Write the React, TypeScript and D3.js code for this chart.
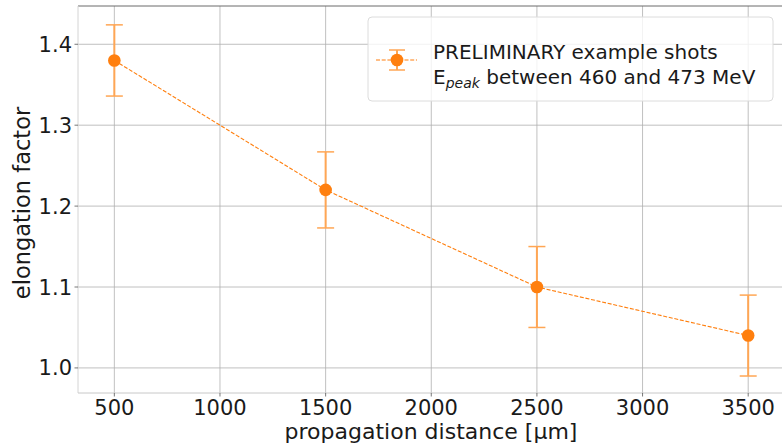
import React from "react";
import * as d3 from "d3";

// Measured elongation factor vs. propagation distance
const distances = [500, 1500, 2500, 3500];
const elongation = [1.38, 1.22, 1.1, 1.04];
const elongationErr = [0.044, 0.047, 0.05, 0.05];
const xTicks = [500, 1000, 1500, 2000, 2500, 3000, 3500];
const yTicks = [1.0, 1.1, 1.2, 1.3, 1.4];

const W = 782;
const H = 444;
const left = 78;
const right = 782;
const top = 6;
const bottom = 393;
const orange = "#ff7f0e";
const errColor = "#ffa654";
const font = "DejaVu Sans, sans-serif";

export default function App() {
  const x = d3.scaleLinear().domain([328, 3660]).range([left, right]);
  const y = d3.scaleLinear().domain([0.969, 1.4473]).range([bottom, top]);
  const line = d3
    .line<number>()
    .x((_, i) => x(distances[i]))
    .y((d) => y(d));

  const capHalf = 8.5;

  return (
    <svg
      width={W}
      height={H}
      style={{ position: "absolute", left: 0, top: 0, background: "#fff" }}
      fontFamily={font}
    >
      {/* grid */}
      {xTicks.map((t) => (
        <line key={"gx" + t} x1={x(t)} x2={x(t)} y1={top} y2={bottom} stroke="#b0b0b0" strokeWidth={0.8} />
      ))}
      {yTicks.map((t) => (
        <line key={"gy" + t} x1={left} x2={right} y1={y(t)} y2={y(t)} stroke="#b0b0b0" strokeWidth={0.8} />
      ))}

      {/* spines */}
      <line x1={left} x2={right} y1={top} y2={top} stroke="#6a6a6a" strokeWidth={1} />
      <line x1={left} x2={left} y1={top} y2={bottom} stroke="#d4d4d4" strokeWidth={1} />
      <line x1={left} x2={right} y1={bottom} y2={bottom} stroke="#c8c8c8" strokeWidth={1} />

      {/* ticks and labels */}
      {xTicks.map((t) => (
        <g key={"tx" + t}>
          <line x1={x(t)} x2={x(t)} y1={bottom} y2={bottom + 3.5} stroke="#555" strokeWidth={0.8} />
          <text x={x(t)} y={415} textAnchor="middle" fontSize={21} fill="#1a1a1a">
            {t}
          </text>
        </g>
      ))}
      {yTicks.map((t) => (
        <g key={"ty" + t}>
          <line x1={left - 3.5} x2={left} y1={y(t)} y2={y(t)} stroke="#555" strokeWidth={0.8} />
          <text x={72} y={y(t)} dy="0.36em" textAnchor="end" fontSize={21} fill="#1a1a1a">
            {t.toFixed(1)}
          </text>
        </g>
      ))}

      <text x={431} y={439} textAnchor="middle" fontSize={22} fill="#1a1a1a">
        propagation distance [μm]
      </text>
      <text
        transform={`translate(30, 203) rotate(-90)`}
        textAnchor="middle"
        fontSize={22.5}
        fill="#1a1a1a"
      >
        elongation factor
      </text>

      {/* connecting dashed line */}
      <path d={line(elongation) || ""} fill="none" stroke={orange} strokeWidth={1.1} strokeDasharray="4,1.7" />

      {/* error bars */}
      {distances.map((d, i) => {
        const cx = x(d);
        const yHi = y(elongation[i] + elongationErr[i]);
        const yLo = y(elongation[i] - elongationErr[i]);
        return (
          <g key={"e" + d} stroke={errColor}>
            <line x1={cx} x2={cx} y1={yHi} y2={yLo} strokeWidth={2} />
            <line x1={cx - capHalf} x2={cx + capHalf} y1={yHi} y2={yHi} strokeWidth={1.5} />
            <line x1={cx - capHalf} x2={cx + capHalf} y1={yLo} y2={yLo} strokeWidth={1.5} />
          </g>
        );
      })}

      {/* markers */}
      {distances.map((d, i) => (
        <circle key={"m" + d} cx={x(d)} cy={y(elongation[i])} r={6.3} fill={orange} />
      ))}

      {/* legend */}
      <g>
        <rect x={368} y={17} width={405} height={84} rx={4} fill="#fff" fillOpacity={0.8} stroke="#dcdcdc" strokeWidth={1} />
        <line x1={376} x2={417} y1={60} y2={60} stroke={orange} strokeWidth={1.1} strokeDasharray="4,1.7" />
        <line x1={397} x2={397} y1={50} y2={70} stroke={errColor} strokeWidth={2} />
        <line x1={389} x2={405} y1={50} y2={50} stroke={errColor} strokeWidth={1.5} />
        <line x1={389} x2={405} y1={70} y2={70} stroke={errColor} strokeWidth={1.5} />
        <circle cx={397} cy={60} r={6.3} fill={orange} />
        <text x={433} y={59} fontSize={20} fill="#1a1a1a">
          PRELIMINARY example shots
        </text>
        <text x={433} y={84} fontSize={20} fill="#1a1a1a">
          E
          <tspan fontSize={14} fontStyle="italic" dy={4}>
            peak
          </tspan>
          <tspan dy={-4}> between 460 and 473 MeV</tspan>
        </text>
      </g>
    </svg>
  );
}
